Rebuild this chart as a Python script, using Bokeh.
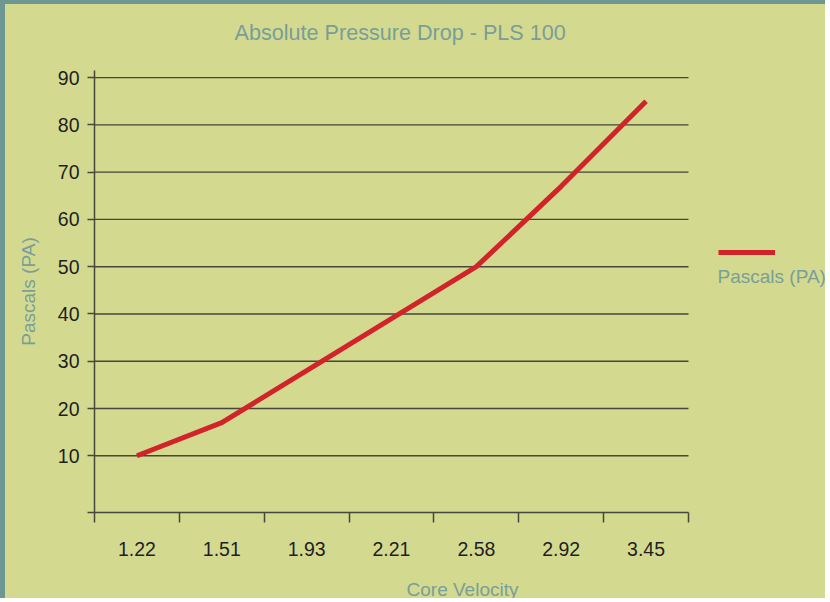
from bokeh.plotting import figure
from bokeh.models import Range1d, FixedTicker, Legend, LegendItem, Label
from bokeh.embed import file_html
from bokeh.resources import INLINE

# ---- data ----
categories = ["1.22", "1.51", "1.93", "2.21", "2.58", "2.92", "3.45"]
pascals = [10, 17, 28, 39, 50, 67, 85]
y_ticks = [-2, 10, 20, 30, 40, 50, 60, 70, 80, 90]
series_name = "Pascals (PA)"
chart_title = "Absolute Pressure Drop - PLS 100"

# ---- styles ----
BG = "#d3da8f"
EDGE = "#6e9792"
TEAL = "#7a9e98"
DARK = "#45473a"
RED = "#d2232b"
FONT = "Liberation Sans"
TICK = "#1f1f1f"

W, H = 825, 598
LEFT, TOP, BOTTOM = 89, 66, 88
AXIS_RIGHT = 683                  # pixel where the category axis ends
n = len(categories)
idx = list(range(n))
slot_px = (AXIS_RIGHT - LEFT) / n
x_lo, x_hi = -0.5, n - 0.5
x_end = x_hi + (W - AXIS_RIGHT) / slot_px   # extra room on the right for the legend

p = figure(width=W, height=H, output_backend="svg", toolbar_location=None,
           x_range=Range1d(x_lo, x_end), y_range=Range1d(-2, 91.5),
           min_border_left=LEFT, min_border_right=0, min_border_top=TOP, min_border_bottom=BOTTOM,
           background_fill_color=None, border_fill_color=None, outline_line_color=None)
p.styles = {"background-color": BG,
            "border-top": f"4px solid {EDGE}", "border-left": f"5px solid {EDGE}"}

p.title.text = chart_title + "\n "
p.title.align = "left"
p.title.offset = 140
p.title.text_color = TEAL
p.title.text_font = FONT
p.title.text_font_size = "21.6px"
p.title.text_font_style = "normal"
p.title.standoff = 2

# horizontal grid lines, limited to the category span
grid_vals = y_ticks[1:]
p.segment(x0=[x_lo] * len(grid_vals), x1=[x_hi] * len(grid_vals), y0=grid_vals, y1=grid_vals,
          line_color=DARK, line_width=1.4)

r = p.line(x=idx, y=pascals, line_color=RED, line_width=5)

# x axis
xa = p.xaxis[0]
xa.bounds = (x_lo, x_hi)
xa.ticker = FixedTicker(ticks=idx, minor_ticks=[i - 0.5 for i in range(n + 1)])
xa.major_label_overrides = {i: c for i, c in zip(idx, categories)}
xa.major_tick_out = 0
xa.major_tick_in = 0
xa.minor_tick_out = 10
xa.minor_tick_in = 0
xa.minor_tick_line_color = DARK
xa.minor_tick_line_width = 1.5
xa.axis_line_color = DARK
xa.axis_line_width = 1.5
xa.major_label_standoff = 19
xa.major_label_text_font = FONT
xa.major_label_text_font_size = "19.5px"
xa.major_label_text_color = TICK
xa.axis_label = "Core Velocity"
xa.axis_label_text_font = FONT
xa.axis_label_text_font_style = "normal"
xa.axis_label_text_font_size = "19px"
xa.axis_label_text_color = TEAL
xa.axis_label_standoff = 20

# y axis
ya = p.yaxis[0]
ya.ticker = FixedTicker(ticks=y_ticks)
ya.major_label_overrides = {-2: ""}
ya.major_tick_out = 7
ya.major_tick_in = 0
ya.minor_tick_out = 0
ya.minor_tick_in = 0
ya.major_tick_line_color = DARK
ya.major_tick_line_width = 1.5
ya.axis_line_color = DARK
ya.axis_line_width = 1.5
ya.major_label_standoff = 8
ya.major_label_text_font = FONT
ya.major_label_text_font_size = "19.5px"
ya.major_label_text_color = TICK
ya.axis_label = series_name
ya.axis_label_text_font = FONT
ya.axis_label_text_font_style = "normal"
ya.axis_label_text_font_size = "19px"
ya.axis_label_text_color = TEAL
ya.axis_label_standoff = 16

p.xgrid.visible = False
p.ygrid.visible = False

legend = Legend(items=[LegendItem(label=" ", renderers=[r])],
                location=(624, 250), padding=0, margin=0,
                border_line_alpha=0, background_fill_alpha=0,
                glyph_width=57, glyph_height=20, label_height=20, label_width=0,
                label_standoff=0)
p.add_layout(legend)

p.add_layout(Label(x=623, y=236, x_units="screen", y_units="screen", text=series_name,
                   text_color=TEAL, text_font=FONT, text_font_size="19px",
                   text_baseline="middle"))

open("out.html", "w").write(file_html(p, INLINE))
